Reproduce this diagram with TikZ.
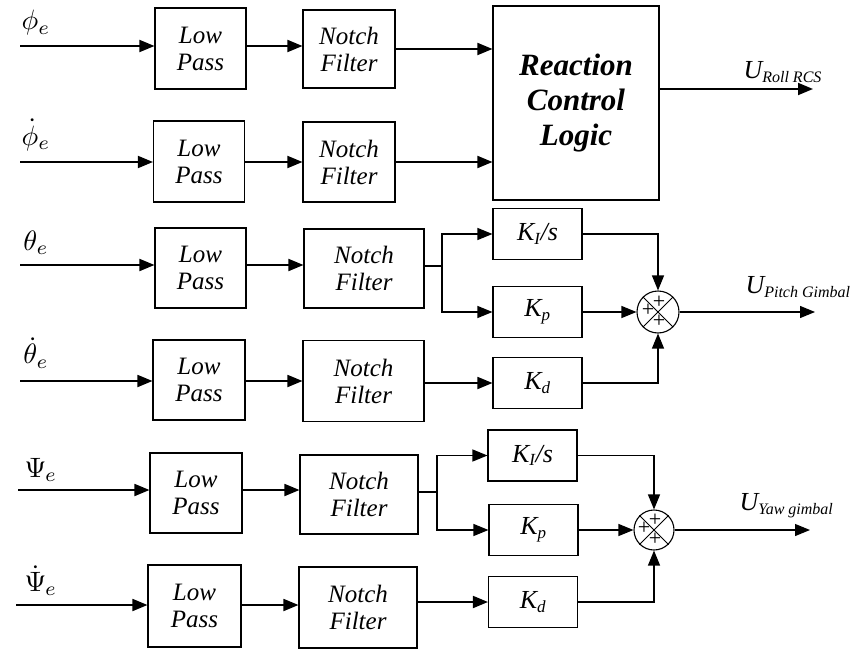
\documentclass[tikz,border=0pt]{standalone}
\usepackage{fontspec}
\usepackage{graphicx}
\setmainfont{Liberation Serif}
\usetikzlibrary{arrows.meta,calc}
\newcommand{\biglbl}[1]{\scalebox{2.8}{$#1$}}
\begin{document}
\begin{tikzpicture}[x=1pt,y=-1pt,
  >={Triangle[length=15pt,width=12pt]},
  blk/.style={draw,line width=1.1pt,inner sep=0pt,align=center,
    font=\fontsize{25}{27}\selectfont\itshape},
  gain/.style={blk,minimum width=89pt,minimum height=51pt,font=\fontsize{26}{28}\selectfont\itshape},
  sumnode/.style={draw,circle,line width=1.1pt,minimum size=42pt,inner sep=0pt},
  sig/.style={line width=1.8pt,->},
  wire/.style={line width=1.2pt},
  warrow/.style={line width=1.2pt,->},
  lbl/.style={inner sep=0pt},
  outlbl/.style={font=\fontsize{26}{28}\selectfont\itshape,anchor=west},
  plus/.style={font=\fontsize{22}{22}\selectfont,inner sep=0pt}
]
\useasboundingbox (0,0) rectangle (856,650);

% ---- roll channel ----
\node[blk,minimum width=91pt,minimum height=81pt] (LP1) at (200.5,48.5) {Low\\Pass};
\node[blk,minimum width=92pt,minimum height=78pt] (N1) at (349,49) {Notch\\Filter};
\node[blk,minimum width=91pt,minimum height=81pt] (LP2) at (199,161.5) {Low\\Pass};
\node[blk,minimum width=92pt,minimum height=80pt] (N2) at (349,162) {Notch\\Filter};
\node[blk,minimum width=166pt,minimum height=194pt,
  font=\fontsize{31}{35}\selectfont\bfseries\itshape] (RCL) at (576,103) {Reaction\\Control\\Logic};

\coordinate (in1) at (20,46);
\coordinate (in2) at (20,162);
\node[lbl] (l1) at (36,23) {\biglbl{\phi_e}};
\node[lbl] (l2) at (36,135) {\biglbl{\dot\phi_e}};
\draw[sig] (in1) -- (in1 -| LP1.west);
\draw[sig] (in2) -- (in2 -| LP2.west);
\draw[sig] (LP1.east |- in1) -- (N1.west |- in1);
\draw[sig] (LP2.east |- in2) -- (N2.west |- in2);
\draw[sig] (N1.east) -- (N1.east -| RCL.west);
\draw[sig] (N2.east) -- (N2.east -| RCL.west);
\coordinate (out1) at (813,89);
\draw[sig] (RCL.east |- out1) -- (out1);
\node[outlbl] (u1) at (740,72) {U\textsubscript{\fontsize{16}{16}\selectfont Roll RCS}};

% ---- pitch channel ----
\node[blk,minimum width=91pt,minimum height=80pt] (LP3) at (200.5,268) {Low\\Pass};
\node[blk,minimum width=120pt,minimum height=79pt] (N3) at (364,268.5) {Notch\\Filter};
\node[blk,minimum width=92pt,minimum height=80pt] (LP4) at (199,380) {Low\\Pass};
\node[blk,minimum width=121pt,minimum height=81pt] (N4) at (363.5,381) {Notch\\Filter};

\node[gain] (KI3) at (537.5,234) {K\textsubscript{\fontsize{17}{17}\selectfont I}/s};
\node[gain] (Kp3) at (537.5,312) {K\textsubscript{\fontsize{17}{17}\selectfont p}};
\node[gain] (Kd3) at (537.5,383) {K\textsubscript{\fontsize{17}{17}\selectfont d}};
\node[sumnode] (S3) at (658,312) {};
\draw[line width=0.9pt] (S3.north west) -- (S3.south east) (S3.north east) -- (S3.south west);
\node[plus] (p3a) at ($(S3.center)+(1,-10)$) {+};
\node[plus] (p3b) at ($(S3.center)+(-10,-2)$) {+};
\node[plus] (p3c) at ($(S3.center)+(1,9)$) {+};

\coordinate (in3) at (20,265);
\coordinate (in4) at (20,381);
\node[lbl] (l3) at (36,243) {\biglbl{\theta_e}};
\node[lbl] (l4) at (36,353) {\biglbl{\dot\theta_e}};
\draw[sig] (in3) -- (in3 -| LP3.west);
\draw[sig] (in4) -- (in4 -| LP4.west);
\draw[sig] (LP3.east |- in3) -- (N3.west |- in3);
\draw[sig] (LP4.east |- in4) -- (N4.west |- in4);
\coordinate (s3) at (442,266);
\draw[wire] (N3.east |- s3) -- (s3);
\draw[warrow] (s3) |- (KI3.west);
\draw[warrow] (s3) |- (Kp3.west);
\draw[sig] (N4.east |- Kd3) -- (Kd3.west);
\draw[warrow] (KI3.east) -| (S3.north);
\draw[warrow] (Kp3.east) -- (S3.west);
\draw[warrow] (Kd3.east) -| (S3.south);
\coordinate (out3) at (815,312);
\draw[warrow] (S3.east) -- (out3);
\node[outlbl] (u3) at (742,287) {U\textsubscript{\fontsize{16}{16}\selectfont Pitch Gimbal}};

% ---- yaw channel ----
\node[blk,minimum width=92pt,minimum height=80pt] (LP5) at (196,493) {Low\\Pass};
\node[blk,minimum width=118pt,minimum height=79pt] (N5) at (359,494.5) {Notch\\Filter};
\node[blk,minimum width=93pt,minimum height=82pt] (LP6) at (194.5,606) {Low\\Pass};
\node[blk,minimum width=118pt,minimum height=81pt] (N6) at (358,607.5) {Notch\\Filter};

\node[gain] (KI5) at (532.5,455.5) {K\textsubscript{\fontsize{17}{17}\selectfont I}/s};
\node[gain] (Kp5) at (533.5,530) {K\textsubscript{\fontsize{17}{17}\selectfont p}};
\node[gain] (Kd5) at (533,602) {K\textsubscript{\fontsize{17}{17}\selectfont d}};
\node[sumnode,minimum size=40pt] (S5) at (654,530) {};
\draw[line width=0.9pt] (S5.north west) -- (S5.south east) (S5.north east) -- (S5.south west);
\node[plus] (p5a) at ($(S5.center)+(1,-10)$) {+};
\node[plus] (p5b) at ($(S5.center)+(-10,-2)$) {+};
\node[plus] (p5c) at ($(S5.center)+(1,9)$) {+};

\coordinate (in5) at (18,490);
\coordinate (in6) at (16,605);
\node[lbl] (l5) at (41,470) {\biglbl{\Psi_{\!\!\;e}}};
\node[lbl] (l6) at (41,581) {\biglbl{\dot\Psi_{\!\!\;e}}};
\draw[sig] (in5) -- (in5 -| LP5.west);
\draw[sig] (in6) -- (in6 -| LP6.west);
\draw[sig] (LP5.east |- in5) -- (N5.west |- in5);
\draw[sig] (LP6.east |- in6) -- (N6.west |- in6);
\coordinate (s5) at (437,492);
\draw[wire] (N5.east |- s5) -- (s5);
\draw[warrow] (s5) |- (KI5.west);
\draw[warrow] (s5) |- (Kp5.west);
\draw[sig] (N6.east |- Kd5) -- (Kd5.west);
\draw[warrow] (KI5.east) -| (S5.north);
\draw[warrow] (Kp5.east) -- (S5.west);
\draw[warrow] (Kd5.east) -| (S5.south);
\coordinate (out5) at (810,530);
\draw[warrow] (S5.east) -- (out5);
\node[outlbl] (u5) at (736,506) {U\textsubscript{\fontsize{16}{16}\selectfont Yaw gimbal}};
\end{tikzpicture}
\end{document}
